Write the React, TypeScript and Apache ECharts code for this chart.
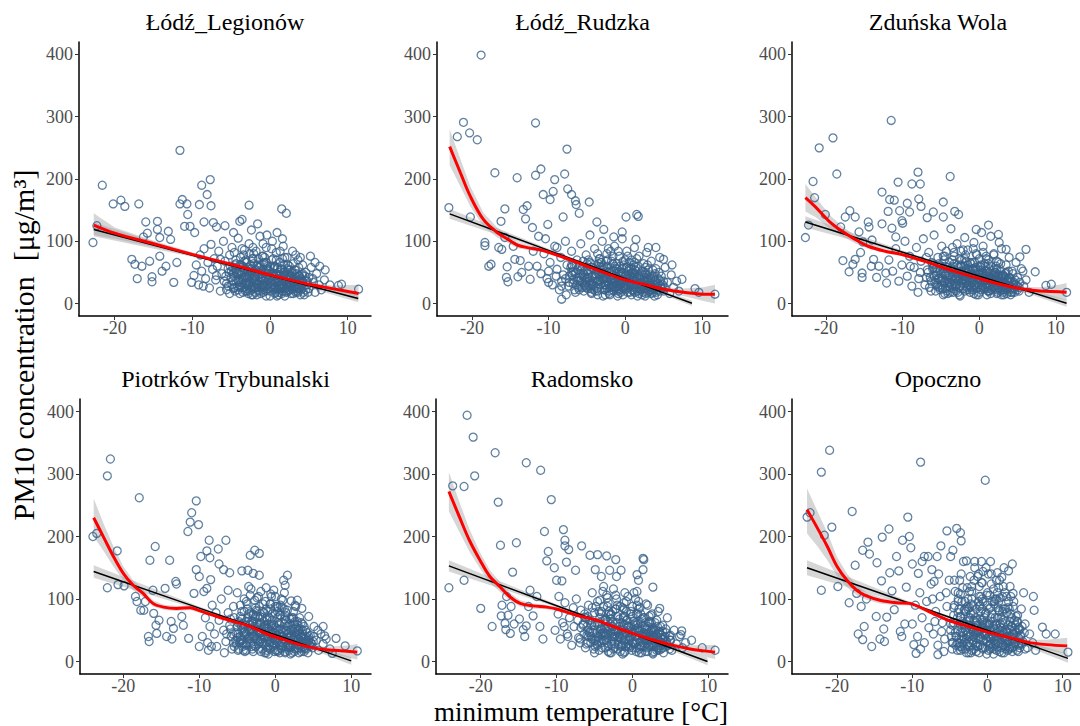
import React, { useEffect, useRef } from "react";
import * as echarts from "echarts";

const stations = ["Łódź_Legionów", "Łódź_Rudzka", "Zduńska Wola", "Piotrków Trybunalski", "Radomsko", "Opoczno"];
const yTicks = [0, 100, 200, 300, 400];
const xTicks = [-20, -10, 0, 10];
const yTitle = "PM10 concentration\u00a0\u00a0[μg/m³]";
const xTitle = "minimum temperature [°C]";

// ---------- Łódź_Legionów ----------
const outliers1 = [[-22.8,98],[-22.3,125],[-21.6,190],[-20.2,160],[-19.2,166],[-18.7,156],[-16.9,160],[-17.8,71],[-17.4,63],[-17.1,40],[-16.5,60],[-16.3,107],[-16.0,131],[-15.8,113],[-15.5,68],[-15.2,43],[-15.2,35],[-14.5,132],[-14.5,119],[-14.2,106],[-14.2,76],[-13.9,52],[-13.4,60],[-13.1,116],[-12.8,103],[-12.4,34],[-12.0,66],[-11.6,246],[-11.6,160],[-11.3,167],[-11.0,124],[-10.7,160],[-10.6,143],[-10.3,124],[-10.1,34],[-9.7,114],[-9.1,159],[-8.8,190],[-8.5,131],[-8.1,175],[-7.7,199],[-7.6,157],[-7.3,130],[-6.9,123],[-6.4,71],[-5.8,125],[-4.7,114],[-3.9,132],[-3.6,135],[-2.7,158],[-2.4,118],[-1.6,128],[1.5,152],[2.1,145],[0.9,114],[3.9,74],[5.2,76],[7.1,54],[7.7,30],[8.8,29],[9.2,31],[11.4,23],[6.4,60],[5.8,66]];
const cloud1 = [[-9.8,45],[-9.5,62],[-9.2,30],[-9,78],[-8.8,52],[-8.5,88],[-8.3,40],[-8,66],[-7.8,25],[-7.6,95],[-7.4,55],[-7.2,72],[-7,38],[-6.8,60],[-6.6,84],[-6.4,20],[-6.2,48],[-6,100],[-5.8,68],[-5.6,32],[-5.4,56],[-5.2,78],[-5,42],[-4.9,90],[-4.7,24],[-4.5,62],[-4.3,50],[-4.1,105],[-4,36],[-3.8,74],[-3.6,58],[-3.5,18],[-3.3,86],[-3.1,44],[-3,66],[-2.8,28],[-2.7,96],[-2.5,52],[-2.3,72],[-2.2,14],[-2,40],[-1.8,84],[-1.7,60],[-1.5,30],[-1.3,108],[-1.2,48],[-1,76],[-0.8,22],[-0.7,64],[-0.5,90],[-0.3,38],[-0.2,54],[0,12],[0.2,70],[0.3,100],[0.5,44],[0.7,28],[0.8,82],[1,58],[1.2,18],[1.3,66],[1.5,36],[1.7,92],[1.8,50],[2,24],[2.2,74],[2.4,42],[2.5,60],[2.7,16],[2.9,84],[3,34],[3.2,54],[3.4,20],[3.6,70],[3.8,44],[4,28],[4.2,62],[4.4,14],[4.6,50],[4.8,36],[5,24],[5.3,58],[5.5,40],[5.8,18],[6,48],[6.3,30],[6.6,22],[7,38],[-3.9,30],[-1,26],[1.1,40],[-2.6,80],[0.6,16],[2.1,32],[-4.4,70],[-6.9,45],[-8.6,28],[3.3,78],[-0.4,110],[1.6,104]];
const core1 = [[-5.9,36],[-5.3,50],[-4.8,58],[-4.2,28],[-3.9,62],[-3.4,42],[-3.1,70],[-2.9,52],[-2.6,34],[-2.1,64],[-1.9,44],[-1.6,26],[-1.4,58],[-0.9,40],[-0.7,74],[-0.4,30],[-0.1,52],[0.3,38],[0.6,60],[0.9,24],[1.1,50],[1.4,30],[1.6,72],[2,40],[2.3,62],[2.6,28],[2.9,48],[3.3,36],[3.7,58],[4.1,34],[4.5,44],[4.9,18],[-4.6,82],[-3.6,88],[-2.2,90],[-0.9,96],[0.2,88],[1.3,84],[-5.6,22],[-3,20],[-1.2,16],[0.9,12],[2.3,20],[3.8,24],[-1.8,32],[0.1,42],[1.8,36],[-2.9,42],[-4,48],[3,64],[-0.5,66],[1.5,54],[-2.4,56],[-1.3,48],[0.7,48],[2.7,44],[-3.6,50],[-5,52],[4.3,28],[5.6,34]];
const dense1 = [[-4.9,30],[-4.6,44],[-4.4,64],[-4.1,38],[-3.8,52],[-3.5,26],[-3.3,68],[-3,34],[-2.8,58],[-2.6,46],[-2.4,22],[-2.2,72],[-2,50],[-1.8,36],[-1.6,62],[-1.4,20],[-1.2,54],[-1,42],[-0.8,66],[-0.6,28],[-0.4,56],[-0.2,38],[0,60],[0.2,26],[0.4,48],[0.6,34],[0.8,70],[1,22],[1.2,44],[1.4,56],[1.6,32],[1.8,62],[2,20],[2.2,46],[2.4,34],[2.6,54],[2.8,24],[3,40],[3.2,28],[3.4,48],[3.6,18],[3.8,38],[4,22],[4.2,48],[-3.7,34],[-3.2,44],[-2.7,30],[-2.3,40],[-1.9,26],[-1.5,46],[-1.1,30],[-0.7,48],[-0.3,24],[0.1,34],[0.5,24],[0.9,40],[1.3,24],[1.7,42],[2.1,28],[2.5,22],[2.9,32],[3.3,18],[3.7,30],[-4.3,54],[-3.4,78],[-2.1,80],[-0.9,76],[0.4,72],[1.9,74],[-1.5,72]];
const pack1 = [[-5.7,44],[-5.4,28],[-5.1,60],[-4.8,36],[-4.5,20],[-4.2,48],[-3.9,16],[-3.6,40],[-3.3,56],[-3,24],[-2.7,44],[-2.4,14],[-2.1,34],[-1.8,54],[-1.5,22],[-1.2,40],[-0.9,18],[-0.6,50],[-0.3,30],[0,20],[0.3,44],[0.6,26],[0.9,56],[1.2,30],[1.5,16],[1.8,46],[2.1,18],[2.4,38],[2.7,32],[3,16],[3.3,44],[3.6,24],[3.9,14],[4.2,36],[4.6,22],[5,42],[-4.6,26],[-3.7,62],[-3.1,32],[-2.5,62],[-1.9,18],[-1.3,62],[-0.7,36],[-0.1,44],[0.5,58],[1.1,14],[1.7,26],[2.3,54],[2.9,22],[3.5,36],[4.1,46],[4.8,30],[-5.2,16],[-2.8,16],[-0.5,12],[1.9,12],[3.1,26],[-1.6,30],[0.7,38],[2.5,46]];
const fill1 = [[-4.4,36],[-4.1,22],[-3.8,46],[-3.5,60],[-3.2,20],[-2.9,38],[-2.6,56],[-2.3,28],[-2,44],[-1.7,14],[-1.4,36],[-1.1,52],[-0.8,32],[-0.5,20],[-0.2,46],[0.1,26],[0.4,56],[0.7,18],[1,34],[1.3,46],[1.6,20],[1.9,36],[2.2,56],[2.5,30],[2.8,50],[3.1,38],[3.4,26],[3.7,44],[4,32],[4.3,18],[-3.9,26],[-3.3,32],[-2.7,20],[-2.1,26],[-1.5,58],[-0.9,28],[-0.3,60],[0.3,30],[0.9,48],[1.5,26],[2.1,40],[2.7,40],[3.3,54],[3.9,40],[-4.7,50],[-2.4,48],[-0.6,40],[1.2,38],[2.4,26],[4.6,36]];
const loess1 = [[-22.7,126,110,145],[-20,113,104,122],[-15,96,91,101],[-10,79,76,82],[-5,63,61,65],[0,46,44,48],[5,31,28,34],[8,24,19,29],[11.4,16,5,30]];
const linear1 = [[-22.7,119,108,130],[-10,77.6,75,80],[0,45,43.5,46.5],[11.35,8,2,14]];

// ---------- Łódź_Rudzka ----------
const outliers2 = [[-23.0,154],[-21.9,268],[-21.1,291],[-20.3,274],[-20.2,139],[-19.3,263],[-18.8,399],[-18.3,98],[-18.3,93],[-17.8,60],[-17.5,63],[-17.0,210],[-16.5,90],[-16.2,132],[-16.1,87],[-15.7,152],[-15.7,106],[-15.5,42],[-15.4,59],[-15.3,35],[-14.6,92],[-14.4,71],[-14.1,202],[-14.0,43],[-13.7,69],[-13.5,50],[-13.3,151],[-13.0,136],[-12.8,157],[-12.6,60],[-12.4,39],[-12.1,122],[-12.0,84],[-11.7,206],[-11.7,290],[-11.3,108],[-11.0,216],[-10.7,175],[-10.4,104],[-10.1,127],[-10.0,34],[-9.8,167],[-9.4,180],[-9.2,199],[-8.9,90],[-8.3,7],[-8.3,28],[-8.1,139],[-7.9,208],[-7.6,248],[-7.5,184],[-7.0,175],[-6.5,165],[-6.4,159],[-6.0,145],[-4.7,163],[-3.7,131],[-2.8,119],[-1.5,107],[-0.4,115],[0.1,139],[1.4,103],[1.5,143],[1.7,140],[3.0,90],[4.0,90],[6.1,62],[7.4,39],[9.1,24],[11.7,15],[9.6,18],[5,71]];
const cloud2 = [[-11.5,60],[-11,48],[-10.6,80],[-10.2,40],[-9.8,66],[-9.5,30],[-9.2,92],[-8.9,55],[-8.6,22],[-8.4,74],[-8.1,46],[-7.8,100],[-7.6,62],[-7.3,34],[-7,84],[-6.8,52],[-6.5,18],[-6.3,70],[-6,42],[-5.8,96],[-5.6,58],[-5.3,28],[-5.1,78],[-4.9,48],[-4.6,110],[-4.4,64],[-4.2,36],[-4,88],[-3.8,54],[-3.6,20],[-3.4,72],[-3.2,44],[-3,100],[-2.8,60],[-2.6,30],[-2.4,80],[-2.2,50],[-2,14],[-1.8,68],[-1.6,38],[-1.4,92],[-1.2,56],[-1,24],[-0.8,76],[-0.6,46],[-0.4,104],[-0.2,62],[0,32],[0.2,84],[0.4,52],[0.6,18],[0.8,70],[1,40],[1.2,90],[1.4,58],[1.6,26],[1.8,76],[2,46],[2.2,14],[2.4,64],[2.6,36],[2.8,82],[3,54],[3.2,22],[3.4,68],[3.6,40],[3.8,12],[4,56],[4.2,30],[4.5,74],[4.7,44],[5,20],[5.2,58],[5.5,34],[5.8,16],[6,46],[6.3,26],[6.7,36],[7,20],[-9,44],[-7.1,58],[-6.1,26],[-5.5,44],[-4.7,30],[-4.1,56],[-3.5,38],[-2.9,48],[-2.3,34],[-1.7,52],[-1.1,42],[-0.5,36],[0.1,48],[0.7,34],[1.3,44],[1.9,32],[2.5,42],[3.1,30],[3.7,26],[4.3,40],[-3.1,66],[-1.9,84],[-0.7,60],[0.5,66],[1.7,60],[-5,64],[-6.7,38],[-8.3,36],[-10,52],[2.9,18],[1.1,20],[-0.9,16],[-2.7,22],[-4.5,24],[-7.7,14],[4.9,30],[3.9,48]];
const core2 = [[-6.9,46],[-6.4,62],[-5.9,36],[-5.4,52],[-4.8,70],[-4.3,44],[-3.9,28],[-3.3,58],[-2.8,40],[-2.5,68],[-2.1,30],[-1.8,52],[-1.5,20],[-1.1,64],[-0.8,36],[-0.5,50],[-0.1,24],[0.2,58],[0.5,40],[0.9,30],[1.2,48],[1.5,36],[1.8,24],[2.2,52],[2.5,30],[2.8,40],[3.3,28],[3.6,54],[4.1,22],[4.6,36],[5.1,26],[-3.6,80],[-2.2,88],[-0.9,84],[0.3,76],[1.5,72],[-4.4,16],[-2.6,14],[-0.3,14],[1.6,12],[3.4,16],[-5.2,30],[-1.3,44],[0.8,56],[2.9,62],[-3,50],[-0.6,30],[1.1,62],[-4.9,40],[-6.2,54],[-2.3,60],[0.6,46],[2.6,48],[-1.6,76],[3.9,34],[-3.7,36],[-1,28],[0,70],[2,38],[4.4,50]];
const dense2 = [[-6.8,32],[-6.5,48],[-6.2,40],[-5.9,60],[-5.6,26],[-5.3,42],[-5,52],[-4.7,36],[-4.4,58],[-4.1,22],[-3.8,46],[-3.5,64],[-3.2,30],[-2.9,54],[-2.6,42],[-2.3,70],[-2,26],[-1.7,46],[-1.4,34],[-1.1,56],[-0.8,22],[-0.5,44],[-0.2,36],[0.1,58],[0.4,26],[0.7,42],[1,30],[1.3,54],[1.6,20],[1.9,40],[2.2,28],[2.5,50],[2.8,24],[3.1,38],[3.4,22],[3.7,44],[4,18],[4.3,32],[4.7,24],[-6,22],[-5.1,34],[-4.3,30],[-3.6,50],[-3,38],[-2.4,24],[-1.9,38],[-1.3,26],[-0.7,32],[-0.1,28],[0.5,34],[1.1,22],[1.7,32],[2.3,18],[2.9,30],[3.5,28],[-4.6,66],[-3.3,72],[-1.6,64],[-0.3,68],[1.2,66],[2.6,58],[-5.5,68],[-7.3,44],[-7,62],[-0.9,50],[0.8,48],[3.2,46]];
const pack2 = [[-7.8,40],[-7.4,28],[-7,50],[-6.6,22],[-6.2,36],[-5.8,48],[-5.4,20],[-5,40],[-4.6,54],[-4.2,28],[-3.9,42],[-3.6,14],[-3.3,36],[-3,58],[-2.7,22],[-2.4,40],[-2.1,16],[-1.8,30],[-1.5,52],[-1.2,26],[-0.9,40],[-0.6,18],[-0.3,48],[0,22],[0.3,36],[0.6,28],[0.9,50],[1.2,18],[1.5,30],[1.8,44],[2.1,22],[2.4,36],[2.7,16],[3,28],[3.3,40],[3.6,18],[3.9,30],[4.2,14],[4.6,28],[5,36],[-6.9,60],[-5.6,34],[-4.4,18],[-3.4,46],[-2.5,30],[-1.6,40],[-0.7,28],[0.2,44],[1.1,38],[2,30],[2.9,38],[3.8,22],[-4.9,24],[-2.9,12],[-1,12],[0.8,14],[2.6,12],[-3.2,66],[-1.4,60],[0.5,56]];
const fill2 = [[-5.5,48],[-5.1,26],[-4.7,42],[-4.3,58],[-3.9,20],[-3.5,36],[-3.1,48],[-2.7,30],[-2.4,52],[-2.1,20],[-1.8,40],[-1.5,28],[-1.2,48],[-0.9,20],[-0.6,38],[-0.3,26],[0,44],[0.3,18],[0.6,32],[0.9,42],[1.2,26],[1.5,42],[1.8,16],[2.1,34],[2.4,24],[2.7,46],[3,20],[3.3,32],[3.6,24],[3.9,38],[4.2,26],[-4.5,32],[-3.7,24],[-2.9,40],[-2.2,36],[-1.6,22],[-1,32],[-0.4,56],[0.2,30],[0.8,22],[1.4,52],[2,24],[2.6,34],[3.2,26],[-6.3,30],[-5.8,54],[-3.4,54],[-1.3,36],[1,48],[4.5,20]];
const loess2 = [[-22.9,252,222,280],[-21.5,210,188,232],[-20.2,172,156,188],[-18.5,135,124,146],[-16.7,114,106,122],[-15.4,104,98,110],[-14.1,94,89,99],[-12.4,89,85,93],[-10.7,85,82,88],[-8,74,72,76],[-5,60,58,62],[-2.8,50,48.5,51.5],[0,38,36.5,39.5],[2.4,31,29,33],[5,23,20,26],[7.6,18,12,24],[10.2,15,4,26],[11.7,15,0,30]];
const linear2 = [[-22.9,144,136,152],[-10,85.4,83,88],[0,40,38.5,41.5],[8.7,0.5,-4,5]];

// ---------- Zduńska Wola ----------
const outliers3 = [[-22.7,106],[-22.3,126],[-21.7,196],[-21.5,170],[-20.9,250],[-20.1,143],[-19.1,266],[-18.6,208],[-18.1,123],[-17.8,69],[-17.5,139],[-17.0,51],[-16.9,149],[-16.5,63],[-16.2,139],[-16.2,71],[-15.7,115],[-15.5,82],[-15.3,42],[-15.3,49],[-15.2,99],[-14.5,131],[-14.4,123],[-14.1,60],[-14.0,102],[-13.8,71],[-13.4,42],[-13.1,60],[-12.7,179],[-12.7,128],[-12.2,49],[-12.1,33],[-11.9,148],[-11.7,167],[-11.5,294],[-11.4,121],[-11.1,166],[-10.9,107],[-10.6,195],[-10.4,149],[-10.1,133],[-10.0,129],[-9.4,161],[-9.1,147],[-8.8,192],[-8.0,211],[-7.9,168],[-7.7,192],[-7.6,156],[-6.8,138],[-6.0,147],[-4.7,163],[-4.7,139],[-3.8,204],[-3.2,148],[-2.7,143],[-0.4,119],[0.3,114],[1.2,126],[2.5,111],[2.6,98],[3.5,87],[5.3,75],[6.1,87],[7.3,51],[8.7,29],[9.4,31],[11.4,18],[5.7,52]];
const cloud3 = [[-11.8,70],[-11.3,52],[-10.9,88],[-10.5,36],[-10.1,62],[-9.7,100],[-9.4,44],[-9.1,76],[-8.8,28],[-8.5,58],[-8.2,90],[-7.9,40],[-7.6,68],[-7.3,104],[-7.1,30],[-6.8,54],[-6.6,82],[-6.3,20],[-6.1,64],[-5.9,110],[-5.6,46],[-5.4,74],[-5.2,26],[-4.9,92],[-4.7,56],[-4.5,36],[-4.3,84],[-4.1,16],[-3.9,66],[-3.7,120],[-3.5,44],[-3.3,76],[-3.1,28],[-2.9,96],[-2.7,58],[-2.5,12],[-2.3,70],[-2.1,40],[-1.9,106],[-1.7,52],[-1.5,86],[-1.3,22],[-1.1,64],[-0.9,34],[-0.7,98],[-0.5,48],[-0.3,78],[-0.1,14],[0.1,60],[0.3,30],[0.5,92],[0.7,44],[0.9,72],[1.1,20],[1.3,56],[1.5,108],[1.7,36],[1.9,80],[2.1,50],[2.3,16],[2.5,66],[2.7,32],[2.9,88],[3.1,46],[3.3,22],[3.5,62],[3.7,38],[3.9,74],[4.1,14],[4.3,52],[4.5,30],[4.8,66],[5,42],[5.2,20],[5.5,56],[5.8,28],[6.1,38],[6.5,18],[-8,18],[-6.4,42],[-5,60],[-4.4,48],[-3.8,32],[-3.2,54],[-2.6,40],[-2,60],[-1.4,46],[-0.8,56],[-0.2,40],[0.4,50],[1,38],[1.6,48],[2.2,36],[2.8,44],[3.4,30],[4,40],[4.6,24],[-2.4,84],[-0.6,66],[1.2,70],[-4.6,70],[-6.9,74],[-9,60],[0.8,26],[-1.6,28],[-3.4,18],[2.6,24],[5.3,34],[-5.8,34],[-7.7,50]];
const core3 = [[-6.7,50],[-6.2,66],[-5.7,38],[-5.1,54],[-4.7,76],[-4.2,44],[-3.8,26],[-3.4,60],[-3,42],[-2.6,72],[-2.2,32],[-1.9,54],[-1.6,22],[-1.2,66],[-0.9,38],[-0.6,52],[-0.2,26],[0.2,58],[0.6,40],[0.9,30],[1.3,50],[1.6,34],[2,24],[2.3,56],[2.6,34],[3,44],[3.4,26],[3.8,52],[4.2,22],[4.7,38],[5.2,26],[-3.5,90],[-2.1,86],[-0.8,88],[0.5,82],[1.9,78],[-4.5,16],[-2.8,18],[-0.4,14],[1.5,16],[3.2,14],[-5.4,28],[-1.4,42],[0.8,60],[2.8,64],[-3.1,48],[-0.7,30],[1.2,64],[-4.8,40],[-6,58],[-2.4,62],[0.4,46],[2.4,46],[-1.8,78],[3.6,36],[-3.9,34],[-1,28],[0,72],[2.1,40],[4.4,48]];
const dense3 = [[-5.9,44],[-5.6,30],[-5.3,64],[-5,36],[-4.7,50],[-4.4,24],[-4.1,58],[-3.8,42],[-3.5,70],[-3.2,32],[-2.9,50],[-2.6,26],[-2.3,60],[-2,38],[-1.7,68],[-1.4,30],[-1.1,48],[-0.8,22],[-0.5,58],[-0.2,34],[0.1,46],[0.4,26],[0.7,64],[1,32],[1.3,42],[1.6,22],[1.9,54],[2.2,30],[2.5,44],[2.8,20],[3.1,36],[3.4,48],[3.7,24],[4,34],[4.3,18],[4.7,30],[5,22],[-5.1,22],[-4.2,34],[-3.6,52],[-3,40],[-2.4,34],[-1.8,44],[-1.2,36],[-0.6,42],[0,30],[0.6,36],[1.2,28],[1.8,36],[2.4,26],[3,28],[3.6,30],[4.2,26],[-4.5,76],[-3.3,82],[-1.9,72],[-0.4,80],[0.9,76],[2.3,68],[-2.7,44],[-1.5,56],[0.3,54],[1.5,60],[2.7,52],[-6.3,36],[-5.5,52],[3.9,42],[-0.9,66]];
const pack3 = [[-6.9,42],[-6.5,26],[-6.1,56],[-5.7,20],[-5.3,40],[-4.9,30],[-4.5,60],[-4.2,20],[-3.9,46],[-3.6,30],[-3.3,64],[-3,20],[-2.7,36],[-2.4,52],[-2.1,24],[-1.8,38],[-1.5,62],[-1.2,18],[-0.9,46],[-0.6,30],[-0.3,54],[0,18],[0.3,38],[0.6,24],[0.9,48],[1.2,20],[1.5,38],[1.8,26],[2.1,50],[2.4,18],[2.7,36],[3,22],[3.3,40],[3.6,16],[3.9,28],[4.2,36],[4.6,18],[5,28],[-5.9,62],[-5,48],[-4,38],[-3.1,28],[-2.2,44],[-1.3,30],[-0.4,24],[0.5,42],[1.4,30],[2.3,38],[3.2,30],[4.1,24],[-4.7,14],[-2.6,14],[-0.7,16],[1,14],[2.9,14],[-3.4,38],[-1.6,48],[0.2,62],[1.9,44],[3.5,50]];
const fill3 = [[-5.2,40],[-4.8,24],[-4.4,46],[-4,28],[-3.7,56],[-3.4,24],[-3.1,40],[-2.8,62],[-2.5,28],[-2.2,48],[-1.9,20],[-1.6,36],[-1.3,54],[-1,26],[-0.7,44],[-0.4,30],[-0.1,54],[0.2,22],[0.5,36],[0.8,46],[1.1,24],[1.4,40],[1.7,28],[2,46],[2.3,22],[2.6,40],[2.9,30],[3.2,44],[3.5,22],[3.8,34],[4.1,18],[-4.6,34],[-3.8,18],[-3,30],[-2.3,38],[-1.6,26],[-0.9,56],[-0.2,40],[0.4,28],[1,52],[1.7,40],[2.4,32],[3.1,18],[3.8,26],[-5.6,56],[-2,50],[0,48],[1.3,20],[2.2,60],[4.5,34]];
const loess3 = [[-22.7,170,148,192],[-21.3,154,138,170],[-19.6,132,121,143],[-17.9,116,108,124],[-16.2,103,97,109],[-14.5,92,88,96],[-12.3,84,81,87],[-10.2,79,76.5,81.5],[-6.7,66,64,68],[-3.3,52,50.5,53.5],[0,40,38.5,41.5],[2.7,31,29,33],[5.3,24,21,27],[7.9,20,14,26],[10.4,19,8,30],[11.4,18,5,33]];
const linear3 = [[-22.7,131,122,140],[-10,82.4,80,85],[0,44,42.5,45.5],[11.4,0.5,-5,6]];

// ---------- Piotrków Trybunalski ----------
const outliers4 = [[-24.0,200],[-23.5,205],[-22.1,297],[-21.7,324],[-22.1,118],[-20.8,177],[-20.7,123],[-19.9,121],[-17.9,262],[-18.4,104],[-18.2,96],[-17.7,82],[-17.3,82],[-17.1,96],[-16.7,40],[-16.6,32],[-16.5,162],[-16.1,114],[-16.0,77],[-15.8,184],[-15.7,58],[-15.6,45],[-15.3,66],[-14.5,117],[-14.3,40],[-13.9,162],[-13.7,64],[-13.6,36],[-13.4,53],[-13.1,128],[-13.0,124],[-12.3,72],[-12.1,58],[-11.5,208],[-11.4,37],[-11.2,223],[-11.0,238],[-10.7,109],[-10.4,257],[-10.4,147],[-10.1,219],[-10.0,136],[-10.0,24],[-9.8,168],[-9.4,112],[-9.0,117],[-9.0,177],[-8.7,194],[-8.6,166],[-8.5,131],[-8.4,24],[-7.5,180],[-7.4,156],[-6.8,147],[-6.5,194],[-6.2,114],[-6.0,142],[-4.4,145],[-3.6,146],[-3.3,170],[-2.7,178],[-2.1,173],[-2.1,138],[-2.9,141],[-0.2,114],[1.1,130],[1.6,138],[1.3,122],[2.1,97],[2.7,88],[2.9,98],[3.5,85],[6.3,56],[6.5,41],[8.0,37],[9.2,25],[10.8,17],[7.5,13]];
const cloud4 = [[-9.6,40],[-9.2,70],[-8.9,30],[-8.6,56],[-8.3,90],[-8,44],[-7.7,24],[-7.4,66],[-7.1,100],[-6.8,50],[-6.5,32],[-6.2,78],[-6,58],[-5.7,20],[-5.5,88],[-5.2,46],[-5,110],[-4.8,64],[-4.6,34],[-4.4,80],[-4.2,54],[-4,16],[-3.8,96],[-3.6,70],[-3.4,40],[-3.2,116],[-3,60],[-2.8,26],[-2.6,86],[-2.4,50],[-2.2,104],[-2,72],[-1.8,36],[-1.6,92],[-1.4,56],[-1.2,14],[-1,80],[-0.8,44],[-0.6,108],[-0.4,66],[-0.2,28],[0,88],[0.2,52],[0.4,18],[0.6,74],[0.8,40],[1,98],[1.2,60],[1.4,24],[1.6,82],[1.8,46],[2,12],[2.2,68],[2.4,34],[2.6,90],[2.8,54],[3,20],[3.2,70],[3.4,40],[3.6,60],[3.8,16],[4,50],[4.2,30],[4.4,72],[4.6,42],[4.9,22],[5.1,56],[5.4,34],[5.7,18],[6,44],[6.3,28],[6.7,36],[7.2,20],[-7.8,78],[-6.4,44],[-5.9,68],[-5.1,28],[-4.5,58],[-3.9,44],[-3.3,52],[-2.7,42],[-2.1,58],[-1.5,40],[-0.9,60],[-0.3,46],[0.3,62],[0.9,30],[1.5,50],[2.1,42],[2.7,30],[3.3,52],[3.9,36],[4.5,26],[-2.9,76],[-1.1,70],[0.7,90],[-3.7,84],[-1.9,16],[-0.1,16],[1.9,22],[3.5,26],[-4.9,18],[-6.7,14],[-8.8,18],[5.6,50],[-2.3,34],[-0.7,30],[1.1,36],[2.9,64],[-4.1,100]];
const core4 = [[-5.9,52],[-5.4,70],[-5,38],[-4.6,90],[-4.3,60],[-3.9,28],[-3.5,76],[-3.1,44],[-2.7,98],[-2.4,62],[-2,32],[-1.7,80],[-1.3,48],[-1,22],[-0.7,92],[-0.4,56],[-0.1,36],[0.3,70],[0.6,26],[0.9,52],[1.2,84],[1.6,38],[1.9,60],[2.2,24],[2.6,46],[3,36],[3.4,62],[3.8,24],[4.2,46],[4.7,30],[5.1,40],[-3.3,106],[-1.9,112],[-0.5,104],[0.8,100],[-4.8,20],[-2.9,16],[-0.9,12],[1.3,14],[3.1,14],[-5.5,30],[-1.5,64],[0.5,44],[2.4,70],[-3.3,58],[-0.3,24],[1.4,66],[-4.1,46],[-2.2,48],[0.1,54],[2.9,48],[-1.1,40],[1.7,28],[-2.6,72],[3.6,44],[-3.7,36],[-0.8,70],[0.4,86],[2.1,52],[4.4,36]];
const dense4 = [[-4.9,44],[-4.6,72],[-4.3,30],[-4,58],[-3.7,92],[-3.4,36],[-3.1,64],[-2.8,48],[-2.5,82],[-2.2,28],[-1.9,60],[-1.6,42],[-1.3,96],[-1,54],[-0.7,32],[-0.4,76],[-0.1,46],[0.2,88],[0.5,30],[0.8,62],[1.1,40],[1.4,78],[1.7,26],[2,50],[2.3,36],[2.6,64],[2.9,22],[3.2,44],[3.5,32],[3.8,56],[4.1,20],[4.4,40],[4.8,28],[-4.4,50],[-3.8,26],[-3.2,50],[-2.6,36],[-2,46],[-1.4,28],[-0.8,50],[-0.2,30],[0.4,50],[1,24],[1.6,44],[2.2,30],[2.8,38],[3.4,22],[4,30],[-3.5,120],[-2.4,102],[-1.2,118],[0,104],[1.2,110],[-2.9,64],[-1.7,70],[-0.5,60],[0.7,74],[1.9,68],[3,58],[-4.1,80],[-2.1,88],[-0.6,92],[0.9,86],[2.4,80],[-1.1,18],[0.3,16],[1.8,18],[-3,20],[3.7,38],[-5.6,44]];
const pack4 = [[-5.8,40],[-5.4,24],[-5,56],[-4.7,30],[-4.4,68],[-4.1,40],[-3.8,18],[-3.5,52],[-3.2,30],[-2.9,74],[-2.6,24],[-2.3,44],[-2,62],[-1.7,20],[-1.4,38],[-1.1,66],[-0.8,26],[-0.5,44],[-0.2,58],[0.1,18],[0.4,36],[0.7,52],[1,30],[1.3,16],[1.6,56],[1.9,34],[2.2,14],[2.5,40],[2.8,28],[3.1,50],[3.4,16],[3.7,30],[4,40],[4.3,14],[4.6,24],[5,32],[-4.9,62],[-3.6,64],[-2.4,80],[-1.2,84],[0,76],[1.2,68],[2.4,60],[-4.2,18],[-3,40],[-1.9,36],[-0.9,40],[0.2,32],[1.1,46],[2,24],[3,36],[3.9,22],[-5.2,34],[-2.7,56],[-0.3,38],[0.8,22],[2.6,52],[-1.5,54],[-3.9,44],[4.4,34]];
const fill4 = [[-4.6,40],[-4.3,24],[-4,48],[-3.7,30],[-3.4,60],[-3.1,24],[-2.8,40],[-2.5,56],[-2.2,20],[-1.9,46],[-1.6,30],[-1.3,58],[-1,36],[-0.7,20],[-0.4,48],[-0.1,26],[0.2,42],[0.5,60],[0.8,20],[1.1,36],[1.4,50],[1.7,22],[2,38],[2.3,52],[2.6,20],[2.9,44],[3.2,26],[3.5,40],[3.8,20],[4.1,34],[-3.9,64],[-3.2,78],[-2.3,72],[-1.5,78],[-0.6,84],[0.3,80],[1.3,74],[2.2,70],[-4.4,34],[-3,50],[-2,30],[-0.9,52],[0,34],[0.9,40],[1.9,26],[2.8,32],[3.6,50],[-1.4,14],[0.6,14],[2.5,16]];
const loess4 = [[-23.9,230,200,261],[-22.6,199,177,221],[-21.3,168,152,184],[-20,141,130,152],[-18.7,122,114,130],[-17.4,109,103,115],[-16.1,93,88,98],[-14.7,87,83,91],[-13,85,81,89],[-11.2,86,82.5,89.5],[-9.9,81,78,84],[-7.7,72,70,74],[-5.5,64,62,66],[-3.3,56,54.5,57.5],[-1.1,44,42.5,45.5],[1.1,35,33.5,36.5],[3.2,27,25,29],[5.4,21,18,24],[7.6,18,12,24],[9.8,16,6,26],[10.8,15,3,28]];
const linear4 = [[-23.9,144,134,154],[-10,85.4,83,88],[0,43,41.5,44.5],[10,1,-5,7]];

// ---------- Radomsko ----------
const outliers5 = [[-24.2,118],[-23.7,281],[-22.2,280],[-22.2,130],[-21.8,394],[-21.0,359],[-20.8,297],[-20.0,85],[-18.5,56],[-18.1,334],[-17.7,255],[-17.4,186],[-17.3,73],[-17.2,90],[-16.8,61],[-16.7,51],[-16.6,104],[-16.4,74],[-16.1,45],[-16.0,88],[-15.8,143],[-15.6,60],[-15.3,190],[-14.9,68],[-14.4,51],[-14.2,40],[-14.0,57],[-13.7,88],[-13.5,114],[-14.0,318],[-13.1,73],[-12.6,104],[-12.2,56],[-12.1,306],[-11.8,36],[-11.6,208],[-11.3,161],[-11.1,176],[-10.7,259],[-10.3,150],[-10.0,130],[-9.7,104],[-9.3,129],[-9.1,211],[-8.9,194],[-8.9,185],[-8.7,159],[-8.4,179],[-7.5,146],[-6.7,185],[-5.6,170],[-4.9,147],[-4.6,171],[-4.1,136],[-3.4,169],[-3.0,146],[-2.2,163],[-2.1,136],[-1.5,146],[0.6,139],[0.8,130],[1.4,165],[1.5,163],[1.4,147],[0.6,112],[2.7,119],[3.6,85],[6.5,49],[6.4,43],[7.8,34],[9.2,22],[10.9,18]];
const cloud5 = [[-10.2,50],[-9.8,76],[-9.5,36],[-9.2,62],[-8.9,94],[-8.6,44],[-8.3,70],[-8,26],[-7.7,56],[-7.4,100],[-7.1,38],[-6.8,82],[-6.5,60],[-6.2,22],[-5.9,72],[-5.6,48],[-5.3,110],[-5,34],[-4.8,88],[-4.6,60],[-4.4,18],[-4.2,76],[-4,44],[-3.8,120],[-3.6,66],[-3.4,30],[-3.2,94],[-3,54],[-2.8,14],[-2.6,80],[-2.4,40],[-2.2,106],[-2,62],[-1.8,26],[-1.6,88],[-1.4,50],[-1.2,72],[-1,16],[-0.8,96],[-0.6,56],[-0.4,34],[-0.2,80],[0,44],[0.2,110],[0.4,62],[0.6,22],[0.8,84],[1,48],[1.2,14],[1.4,70],[1.6,38],[1.8,92],[2,56],[2.2,26],[2.4,74],[2.6,42],[2.8,16],[3,62],[3.2,34],[3.4,80],[3.6,48],[3.8,20],[4,58],[4.3,30],[4.6,70],[4.9,40],[5.2,18],[5.5,50],[5.8,28],[6.2,40],[6.6,22],[7,30],[-9,56],[-7.2,66],[-6,42],[-5.4,58],[-4.7,28],[-4.1,52],[-3.5,44],[-2.9,60],[-2.3,48],[-1.7,40],[-1.1,58],[-0.5,46],[0.1,30],[0.7,52],[1.3,40],[1.9,30],[2.5,50],[3.1,42],[3.7,32],[4.4,46],[-3.1,76],[-1.3,86],[0.5,76],[2.3,64],[-5.8,90],[-7.8,86],[-0.9,24],[1.1,26],[-2.5,20],[3.3,22],[5,34],[-6.9,30],[-8.5,40],[-4.3,98]];
const core5 = [[-6.8,54],[-6.3,70],[-5.8,40],[-5.3,86],[-4.9,62],[-4.5,32],[-4.1,80],[-3.7,46],[-3.3,102],[-2.9,68],[-2.6,36],[-2.2,84],[-1.9,50],[-1.5,24],[-1.1,94],[-0.8,58],[-0.4,38],[0,72],[0.3,28],[0.7,54],[1,86],[1.4,40],[1.7,62],[2.1,24],[2.4,48],[2.8,38],[3.2,66],[3.6,26],[4,48],[4.5,32],[5,42],[-3.9,112],[-2.5,116],[-1,110],[0.4,100],[-5.1,20],[-3.2,16],[-1.3,12],[0.9,14],[2.7,14],[-5.9,30],[-1.7,68],[0.2,46],[2.2,72],[-3.5,60],[-0.6,24],[1.2,68],[-4.3,48],[-2.4,50],[-0.2,56],[2.6,54],[-1.3,42],[1.5,30],[-2.8,76],[3.4,44],[-4,36],[-1,72],[0.6,90],[1.9,52],[4.2,38]];
const dense5 = [[-5.9,50],[-5.6,66],[-5.3,36],[-5,78],[-4.7,46],[-4.4,62],[-4.1,30],[-3.8,88],[-3.5,52],[-3.2,38],[-2.9,74],[-2.6,56],[-2.3,28],[-2,90],[-1.7,44],[-1.4,62],[-1.1,34],[-0.8,80],[-0.5,50],[-0.2,26],[0.1,64],[0.4,40],[0.7,76],[1,32],[1.3,56],[1.6,24],[1.9,44],[2.2,34],[2.5,62],[2.8,24],[3.1,50],[3.4,34],[3.7,56],[4,22],[4.3,40],[4.7,26],[5,34],[-5.2,46],[-4.5,38],[-3.9,46],[-3.3,64],[-2.7,40],[-2.1,50],[-1.5,36],[-0.9,46],[-0.3,38],[0.3,50],[0.9,42],[1.5,46],[2.1,40],[2.7,34],[3.3,40],[3.9,30],[-4.6,96],[-3.4,106],[-2.1,100],[-0.6,104],[0.8,96],[2,90],[-1.9,20],[-0.1,18],[1.7,16],[3.5,18],[-3.6,22],[-6.4,44],[-6.1,70],[4.4,52],[-1.2,70],[0.5,58],[2.6,76]];
const pack5 = [[-6.9,36],[-6.5,58],[-6.1,28],[-5.7,46],[-5.3,62],[-4.9,24],[-4.6,40],[-4.3,70],[-4,22],[-3.7,52],[-3.4,34],[-3.1,80],[-2.8,28],[-2.5,44],[-2.2,62],[-1.9,34],[-1.6,16],[-1.3,52],[-1,30],[-0.7,66],[-0.4,22],[-0.1,42],[0.2,58],[0.5,16],[0.8,36],[1.1,62],[1.4,24],[1.7,44],[2,16],[2.3,36],[2.6,26],[2.9,48],[3.2,18],[3.5,32],[3.8,42],[4.1,14],[4.5,28],[4.9,20],[-5.5,30],[-4.2,44],[-3.2,56],[-2.3,40],[-1.4,28],[-0.5,56],[0.4,30],[1.3,36],[2.2,46],[3.1,24],[4,36],[-5,14],[-3,14],[-1.1,14],[0.9,20],[2.7,12],[-3.8,66],[-2,72],[-0.2,76],[1.6,70],[3.3,56],[-6.3,76]];
const fill5 = [[-5.4,40],[-5,58],[-4.6,26],[-4.2,52],[-3.8,34],[-3.5,68],[-3.2,24],[-2.9,46],[-2.6,64],[-2.3,22],[-2,40],[-1.7,56],[-1.4,26],[-1.1,44],[-0.8,66],[-0.5,28],[-0.2,48],[0.1,22],[0.4,40],[0.7,60],[1,24],[1.3,42],[1.6,54],[1.9,22],[2.2,40],[2.5,30],[2.8,52],[3.1,30],[3.4,20],[3.7,38],[4,28],[-4.4,80],[-3.3,88],[-2.2,84],[-1.1,84],[0,88],[1.1,76],[2.2,62],[-4.8,34],[-3.7,42],[-2.7,32],[-1.8,48],[-0.9,36],[0,30],[0.9,50],[1.8,34],[2.7,42],[3.6,46],[-6,56],[4.4,24]];
const loess5 = [[-24.2,272,240,303],[-22.8,231,207,255],[-21.5,194,176,212],[-20.1,162,149,175],[-18.8,136,126,146],[-17.5,120,112,128],[-16.2,104,98,110],[-14.8,93,88,98],[-13.1,89,85,93],[-11.3,87,83.5,90.5],[-10,84,81,87],[-7.4,74,72,76],[-4.7,66,64,68],[-2.5,56,54.5,57.5],[0,45,43.5,46.5],[2.3,36,34,38],[5,27,24,30],[7.6,20,14,26],[9.4,17,8,26],[10.9,15,4,27]];
const linear5 = [[-24.2,153,144,162],[-10,89.3,87,91.6],[0,44.4,42.9,45.9],[9.9,0,-6,6]];

// ---------- Opoczno ----------
const outliers6 = [[-24.0,231],[-23.6,238],[-22.1,303],[-22.1,114],[-21.7,202],[-21.0,338],[-20.7,215],[-19.9,120],[-18.4,94],[-18.0,240],[-17.6,154],[-17.4,109],[-17.2,44],[-16.8,88],[-16.6,35],[-16.6,178],[-16.4,56],[-16.1,100],[-15.9,191],[-15.7,172],[-15.4,24],[-14.8,72],[-14.7,158],[-14.3,36],[-14.1,129],[-14.0,199],[-13.8,52],[-13.7,32],[-13.4,71],[-13.1,212],[-13.0,142],[-12.7,113],[-12.4,83],[-12.1,168],[-11.8,145],[-11.6,48],[-11.4,40],[-11.3,194],[-11.0,60],[-10.8,119],[-10.6,231],[-10.4,200],[-10.2,182],[-10.0,156],[-9.8,27],[-9.5,13],[-9.2,141],[-8.9,319],[-8.7,160],[-8.4,168],[-7.9,168],[-7.4,147],[-7.1,128],[-6.7,168],[-6.6,11],[-6.2,185],[-5.4,209],[-4.9,168],[-4.6,178],[-4.1,213],[-3.6,206],[-3.5,193],[-3.2,160],[-2.8,161],[-1.7,160],[-1.3,136],[-0.8,160],[-0.3,290],[0.4,160],[1.3,142],[1.9,135],[2.8,145],[3.3,156],[3.4,109],[4.0,74],[6.1,104],[6.2,82],[7.3,55],[7.8,44],[9.0,44],[10.7,15]];
const cloud6 = [[-10,60],[-9.6,90],[-9.3,40],[-9,110],[-8.7,70],[-8.4,30],[-8.1,96],[-7.8,54],[-7.5,124],[-7.2,44],[-6.9,80],[-6.6,26],[-6.3,104],[-6,62],[-5.7,36],[-5.4,88],[-5.1,130],[-4.9,50],[-4.7,20],[-4.5,74],[-4.3,112],[-4.1,40],[-3.9,96],[-3.7,60],[-3.5,140],[-3.3,28],[-3.1,82],[-2.9,50],[-2.7,118],[-2.5,14],[-2.3,70],[-2.1,100],[-1.9,40],[-1.7,150],[-1.5,62],[-1.3,24],[-1.1,88],[-0.9,52],[-0.7,126],[-0.5,34],[-0.3,76],[-0.1,106],[0.1,18],[0.3,60],[0.5,140],[0.7,42],[0.9,92],[1.1,28],[1.3,70],[1.5,118],[1.7,50],[1.9,14],[2.1,84],[2.3,36],[2.5,104],[2.7,58],[2.9,22],[3.1,76],[3.3,44],[3.5,96],[3.7,30],[3.9,64],[4.1,16],[4.3,52],[4.5,84],[4.7,32],[5,60],[5.3,22],[5.6,44],[6,30],[6.4,18],[-8.9,20],[-7,64],[-6.1,48],[-5.5,110],[-4.6,58],[-4,30],[-3.4,64],[-2.8,36],[-2.2,56],[-1.6,44],[-1,68],[-0.4,48],[0.2,40],[0.8,56],[1.4,38],[2,48],[2.6,40],[3.2,56],[3.8,46],[4.4,40],[-2.4,86],[-0.6,96],[1.2,100],[-4.4,130],[-1.2,140],[0.6,22],[2.4,20],[-1.8,20],[-3.6,18],[-5.8,16],[-7.3,100],[-6.5,140],[1.6,130],[3,120],[-0.2,150],[2.2,150],[4.8,110]];
const core6 = [[-4.9,60],[-4.5,86],[-4.2,40],[-3.9,110],[-3.6,70],[-3.3,46],[-3,96],[-2.7,28],[-2.4,66],[-2.1,120],[-1.8,54],[-1.5,84],[-1.2,36],[-0.9,104],[-0.6,62],[-0.3,22],[0,90],[0.3,50],[0.6,76],[0.9,34],[1.2,60],[1.5,96],[1.8,42],[2.1,66],[2.4,28],[2.7,86],[3,50],[3.4,36],[3.8,72],[4.2,26],[4.6,56],[-3.7,130],[-2.3,136],[-0.8,126],[0.8,116],[2.3,110],[-4,18],[-2.2,14],[-0.1,12],[1.6,16],[3.3,16],[-4.7,30],[-1.6,70],[0.2,38],[2,80],[-3.2,60],[-0.4,44],[1.3,46],[-2.6,44],[-1,50],[0.7,64],[2.9,40],[-1.9,30],[0.4,28],[-2.9,80],[3.6,50],[-3.5,24],[-0.7,84],[1,100],[1.9,30]];
const dense6 = [[-4,50],[-3.8,84],[-3.5,36],[-3.3,118],[-3.1,60],[-2.8,42],[-2.6,100],[-2.4,30],[-2.2,76],[-2,52],[-1.8,130],[-1.6,38],[-1.4,66],[-1.2,96],[-1,26],[-0.8,56],[-0.6,144],[-0.4,70],[-0.2,36],[0,110],[0.2,58],[0.4,86],[0.6,44],[0.8,26],[1,70],[1.2,130],[1.4,52],[1.6,80],[1.8,22],[2,104],[2.2,46],[2.4,64],[2.6,34],[2.8,96],[3,24],[3.2,70],[3.5,44],[3.8,58],[4.1,38],[4.5,30],[4.9,46],[-3.6,72],[-3,84],[-2.5,58],[-1.9,90],[-1.3,46],[-0.7,100],[-0.1,62],[0.5,124],[1.1,40],[1.7,60],[2.3,84],[2.9,52],[3.4,88],[4,64],[-2.9,20],[-1.5,16],[0.3,20],[1.5,30],[2.7,18],[4.3,22],[-0.9,36],[0.9,96],[-2.1,112],[2.1,120],[-3.9,100],[3.1,104],[-1.1,120],[0.1,140],[1.3,110]];
const pack6 = [[-4.8,40],[-4.5,62],[-4.2,26],[-3.9,78],[-3.6,46],[-3.3,20],[-3,58],[-2.7,88],[-2.4,40],[-2.1,18],[-1.8,66],[-1.5,30],[-1.2,50],[-0.9,80],[-0.6,20],[-0.3,42],[0,60],[0.3,28],[0.6,96],[0.9,52],[1.2,18],[1.5,40],[1.8,70],[2.1,26],[2.4,50],[2.7,30],[3,64],[3.3,22],[3.6,38],[3.9,18],[4.2,50],[4.6,28],[5,20],[-3.8,30],[-3.1,36],[-2.5,70],[-1.9,48],[-1.3,24],[-0.7,66],[-0.1,32],[0.5,48],[1.1,28],[1.7,54],[2.3,38],[2.9,20],[3.5,30],[4.1,28],[-4.4,90],[-3.4,96],[-2.2,92],[-1,90],[0.2,84],[1.4,86],[2.6,78],[-2.8,14],[-1.1,14],[0.8,12],[2.2,14],[-0.5,54],[1.9,44]];
const fill6 = [[-4.3,46],[-4,70],[-3.7,24],[-3.4,54],[-3.1,30],[-2.8,64],[-2.5,24],[-2.2,44],[-1.9,76],[-1.6,26],[-1.3,58],[-1,40],[-0.7,22],[-0.4,60],[-0.1,46],[0.2,26],[0.5,70],[0.8,40],[1.1,58],[1.4,24],[1.7,44],[2,62],[2.3,24],[2.6,48],[2.9,32],[3.2,56],[3.5,24],[3.8,40],[4.1,54],[4.4,42],[-3.6,108],[-2.4,112],[-1.1,104],[0.3,106],[1.7,102],[2.9,84],[-4.6,30],[-3.3,40],[-2,34],[-0.8,44],[0.4,36],[1.3,34],[2.4,34],[3.4,44],[-2.6,84],[-0.2,78],[1.5,82],[3.6,66],[-1.5,48],[0.9,20]];
const loess6 = [[-24,243,205,277],[-22.6,213,184,240],[-21.3,184,162,206],[-20,152,137,167],[-18.7,130,119,141],[-17.4,114,106,122],[-16.1,105,99,111],[-14.3,98,93,103],[-12.1,94,90,98],[-10.4,93,89.5,96.5],[-7.8,80,77.5,82.5],[-5.2,66,64,68],[-2.5,56,54,58],[0,47,45,49],[2.7,39,36.5,41.5],[5.3,31,27,35],[7.9,27,19,35],[10.6,25,12,38]];
const linear6 = [[-24,150,138,162],[-10,91.5,89,94],[0,49.7,48,51.4],[10.7,5,-2,12]];

const points = [
  [...outliers1, ...cloud1, ...core1, ...dense1, ...pack1, ...fill1],
  [...outliers2, ...cloud2, ...core2, ...dense2, ...pack2, ...fill2],
  [...outliers3, ...cloud3, ...core3, ...dense3, ...pack3, ...fill3],
  [...outliers4, ...cloud4, ...core4, ...dense4, ...pack4, ...fill4],
  [...outliers5, ...cloud5, ...core5, ...dense5, ...pack5, ...fill5],
  [...outliers6, ...cloud6, ...core6, ...dense6, ...pack6, ...fill6],
];
const loessFits = [loess1, loess2, loess3, loess4, loess5, loess6];
const linearFits = [linear1, linear2, linear3, linear4, linear5, linear6];

// panel layout (pixels) and axis extents
const panels = [
  { left: 79, top: 42, width: 292, height: 274, xMin: -24.6, xMax: 13.0 },
  { left: 437, top: 42, width: 291, height: 274, xMin: -24.55, xMax: 13.4 },
  { left: 792, top: 42, width: 292, height: 274, xMin: -24.45, xMax: 13.15 },
  { left: 80, top: 399, width: 291, height: 275, xMin: -25.7, xMax: 12.6 },
  { left: 436, top: 399, width: 292, height: 275, xMin: -25.9, xMax: 12.6 },
  { left: 792, top: 399, width: 292, height: 275, xMin: -26.0, xMax: 12.3 },
];

const SERIF = "Liberation Serif";
const POINT = "#38628a";

function bandSeries(band: number[][], idx: number) {
  return {
    type: "custom",
    xAxisIndex: idx,
    yAxisIndex: idx,
    silent: true,
    clip: true,
    data: band.map((d) => [d[0], d[2], d[3]]),
    encode: { x: 0, y: [1, 2] },
    renderItem: (params: any, api: any) => {
      if (params.dataIndex !== 0) return null;
      const up = band.map((d) => api.coord([d[0], d[3]]));
      const lo = band.map((d) => api.coord([d[0], d[2]])).reverse();
      return {
        type: "polygon",
        shape: { points: up.concat(lo) },
        style: { fill: "rgba(153,153,153,0.4)", stroke: "none" },
      };
    },
  };
}

export default function App() {
  const ref = useRef<HTMLDivElement>(null);
  useEffect(() => {
    document.body.style.margin = "0";
    const chart = echarts.init(ref.current!, null, { renderer: "svg", width: 1080, height: 726 });
    const grid = panels.map((p) => ({ left: p.left, top: p.top, width: p.width, height: p.height }));
    const tickRich = { t: { fontFamily: SERIF, fontSize: 18, color: "#4d4d4d" } };
    const xAxis = panels.map((p, i) => ({
      type: "value",
      gridIndex: i,
      min: p.xMin,
      max: p.xMax,
      splitLine: { show: false },
      axisLine: { show: true, onZero: false, lineStyle: { color: "#000", width: 1.5 } },
      axisTick: { show: true, length: 4, customValues: xTicks, lineStyle: { color: "#333", width: 1 } },
      axisLabel: {
        customValues: xTicks,
        margin: 3,
        fontFamily: SERIF,
        fontSize: 18,
        color: "#4d4d4d",
        formatter: (v: number) => `{t|${v}}`,
        rich: tickRich,
      },
    }));
    const yAxis = panels.map((p, i) => ({
      type: "value",
      gridIndex: i,
      min: -20,
      max: 420,
      splitLine: { show: false },
      axisLine: { show: true, onZero: false, lineStyle: { color: "#000", width: 1.5 } },
      axisTick: { show: true, length: 4, customValues: yTicks, lineStyle: { color: "#333", width: 1 } },
      axisLabel: {
        customValues: yTicks,
        margin: 6,
        fontFamily: SERIF,
        fontSize: 18,
        color: "#4d4d4d",
        formatter: (v: number) => `{t|${v}}`,
        rich: tickRich,
      },
    }));
    const series: any[] = [];
    panels.forEach((_, i) => {
      series.push({
        type: "scatter",
        xAxisIndex: i,
        yAxisIndex: i,
        silent: true,
        symbol: "circle",
        symbolSize: 8,
        data: points[i],
        itemStyle: { color: "rgba(0,0,0,0)", borderColor: POINT, borderWidth: 1.3 },
      });
      series.push(bandSeries(linearFits[i], i));
      series.push({
        type: "line",
        xAxisIndex: i,
        yAxisIndex: i,
        silent: true,
        showSymbol: false,
        data: linearFits[i].map((d) => [d[0], d[1]]),
        lineStyle: { color: "#000", width: 1.5 },
      });
      series.push(bandSeries(loessFits[i], i));
      series.push({
        type: "line",
        xAxisIndex: i,
        yAxisIndex: i,
        silent: true,
        showSymbol: false,
        smooth: 0.35,
        data: loessFits[i].map((d) => [d[0], d[1]]),
        lineStyle: { color: "#ff0000", width: 3 },
      });
    });
    const graphics: any[] = panels.map((p, i) => ({
      type: "text",
      x: p.left + p.width / 2,
      y: p.top - 20,
      style: { text: stations[i], fill: "#000", fontFamily: SERIF, fontSize: 24, textAlign: "center", textVerticalAlign: "middle" },
    }));
    graphics.push({
      type: "text",
      x: 581,
      y: 712,
      style: { text: xTitle, fill: "#000", fontFamily: SERIF, fontSize: 27, textAlign: "center", textVerticalAlign: "middle" },
    });
    graphics.push({
      type: "text",
      x: 23,
      y: 345,
      rotation: Math.PI / 2,
      style: { text: yTitle, fill: "#000", fontFamily: SERIF, fontSize: 30, textAlign: "center", textVerticalAlign: "middle" },
    });
    chart.setOption({
      animation: false,
      backgroundColor: "#fff",
      textStyle: { fontFamily: SERIF },
      grid,
      xAxis,
      yAxis,
      series,
      graphic: graphics,
    });
    return () => chart.dispose();
  }, []);
  return <div ref={ref} style={{ width: 1080, height: 726 }} />;
}
